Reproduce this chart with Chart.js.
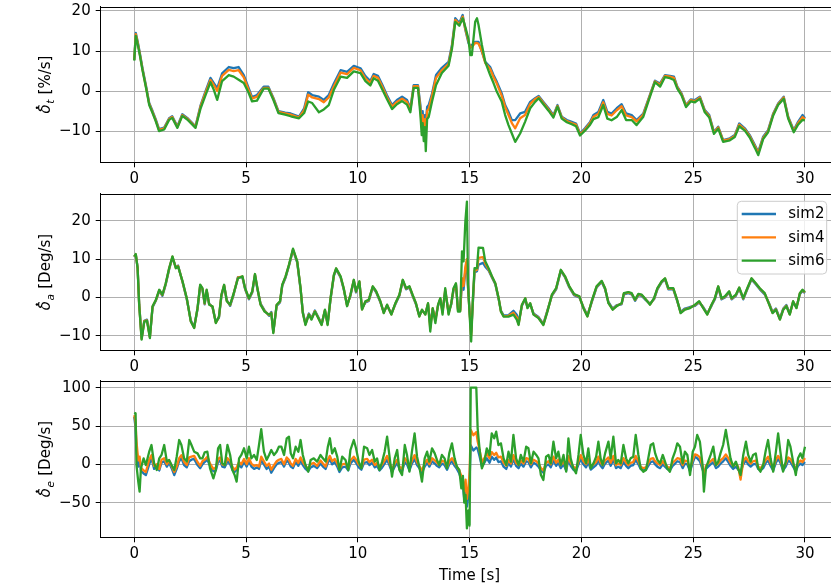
<!DOCTYPE html>
<html>
<head>
<meta charset="utf-8">
<script src="https://cdn.jsdelivr.net/npm/chart.js@4.4.1/dist/chart.umd.min.js"></script>
<style>
    html, body { margin: 0; padding: 0; background: #fff; overflow: hidden; }
    #wrap { position: relative; width: 831px; height: 586px; overflow: hidden; background: #fff; }
    #wrap canvas { position: absolute; left: 0; }
</style>
</head>
<body>
<div id="wrap">
    <canvas id="throttleChart" width="840" height="190" style="top:0px"></canvas>
    <canvas id="aileronChart" width="840" height="190" style="top:188px"></canvas>
    <canvas id="elevatorChart" width="840" height="210" style="top:376px"></canvas>
</div>
<script>
// throttle rate [%/s]
var throttleTime = [
    0, 0.07, 0.15, 0.25, 0.37, 0.52, 0.67, 0.82, 0.96, 1.11,
    1.34, 1.56, 1.7, 1.93, 2.15, 2.37, 2.6, 2.74, 2.97, 3.19,
    3.41, 3.56, 3.71, 3.93, 4.23, 4.45, 4.67, 4.9, 5.12, 5.27,
    5.49, 5.79, 6.0, 6.23, 6.45, 6.75, 7.0, 7.37, 7.6, 7.78,
    7.96, 8.26, 8.48, 8.7, 8.93, 9.23, 9.52, 9.82, 10.12, 10.34,
    10.56, 10.71, 10.9, 11.1, 11.3, 11.53, 11.75, 11.98, 12.2, 12.35,
    12.5, 12.69, 12.8, 12.86, 12.9, 12.95, 13.0, 13.04, 13.1, 13.17,
    13.32, 13.5, 13.76, 14.06, 14.21, 14.36, 14.54, 14.69, 14.81, 14.95,
    15.03, 15.1, 15.25, 15.33, 15.4, 15.55, 15.7, 15.92, 16.07, 16.22,
    16.44, 16.59, 16.74, 16.89, 17.04, 17.26, 17.48, 17.71, 17.93, 18.09,
    18.3, 18.53, 18.75, 18.93, 19.12, 19.35, 19.57, 19.76, 19.94, 20.16,
    20.39, 20.54, 20.76, 20.98, 21.16, 21.35, 21.58, 21.8, 22.0, 22.25,
    22.47, 22.77, 23.06, 23.29, 23.52, 23.74, 23.96, 24.14, 24.29, 24.48,
    24.68, 24.89, 25.08, 25.3, 25.52, 25.72, 25.93, 26.12, 26.34, 26.64,
    26.86, 27.06, 27.31, 27.53, 27.76, 27.91, 28.13, 28.35, 28.58, 28.8,
    29.05, 29.25, 29.5, 29.69, 29.89, 30.0
];
var throttleSim2 = [
    7.8, 14.5, 12.5, 9.5, 5.7, 1.5, -3, -5, -7, -9.5,
    -9.1, -6.8, -6.3, -8.8, -5.8, -6.7, -8, -8.8, -3.5, 0,
    3.3, 2, 0.7, 4.4, 6, 5.7, 6, 4, 0.7, -1.5,
    -1, 1.1, 1.1, -1.8, -5, -5.4, -5.6, -6.4, -4.3, -0.3,
    -1, -1.4, -2.2, -1, 1.9, 5.2, 4.8, 6.3, 5.7, 3.75,
    2.5, 4.25, 3.8, 1.5, -1, -3.5, -2.25, -1.4, -2.25, -4.3,
    1.5, 1.5, -3.5, -8, -5, -10, -6, -8, -4, -3.5,
    -0.6, 4, 5.8, 7.3, 11.5, 18.2, 17, 19, 15.25, 12,
    11.1, 11.5, 12.3, 12.3, 12.3, 9.8, 7.3, 6, 4, 2.3,
    -0.6, -3.5, -5.2, -7.25, -7.25, -5.6, -5.2, -2.7, -1.8, -1.2,
    -2.7, -4.3, -6, -3.5, -6.4, -7.25, -7.7, -8.1, -10.6, -9.3,
    -7.7, -6, -5.2, -2.25, -5.2, -5.6, -4.3, -3.3, -5.6, -6,
    -7.25, -5.6, -1, 2.6, 1.9, 4, 3.8, 3.6, 1.1, -0.6,
    -3.5, -2.1, -2.25, -1.4, -4.75, -6, -10.2, -8.9, -12.25, -11.8,
    -11, -8.1, -9.3, -11, -13.5, -15.2, -11.4, -9.75, -5.6, -3.1,
    -1.4, -6.4, -9.75, -7.7, -6, -6.8
];
var throttleSim4 = [
    7.8, 14.2, 12.2, 9.2, 5.4, 1.2, -3.2, -5.3, -7.3, -9.7,
    -9.3, -7, -6.5, -9, -6, -6.9, -8.2, -9, -3.8, -0.4,
    2.8, 1.5, 0, 3.8, 5.3, 5, 5.2, 3.4, 0.2, -1.9,
    -1.4, 0.8, 0.8, -2, -5.2, -5.6, -5.9, -6.6, -4.8, -0.9,
    -1.6, -2, -2.8, -1.6, 1.2, 4.6, 4.2, 5.8, 5.2, 3.2,
    2, 3.8, 3.3, 1, -1.5, -3.9, -2.7, -1.9, -2.7, -4.7,
    1.2, 1.2, -4.5, -9, -6, -11, -7, -10, -5, -4.5,
    -1.2, 3.3, 5.2, 6.8, 11, 17.8, 16.6, 18.6, 15.5, 12.5,
    10.8, 11, 12, 12, 11.8, 10, 7, 5.5, 3.5, 1.8,
    -1.2, -4, -6, -8, -9.3, -6.8, -6, -3.2, -2, -1.5,
    -3, -4.6, -6.3, -3.7, -6.6, -7.5, -8, -8.4, -10.8, -9.6,
    -8, -6.4, -5.7, -2.8, -5.7, -6.1, -4.8, -3.8, -6.1, -6.5,
    -7.6, -5.9, -1.2, 2.4, 1.6, 3.8, 3.6, 3.3, 0.9, -0.8,
    -3.7, -2.3, -2.5, -1.6, -5, -6.3, -10.4, -9.1, -12.4, -12,
    -11.2, -8.4, -9.6, -11.3, -13.8, -15.5, -11.7, -10, -5.8, -3.3,
    -1.6, -6.6, -10, -8, -6.5, -7
];
var throttleSim6 = [
    7.6, 13.8, 11.8, 9, 5.2, 1, -3.5, -5.5, -7.5, -10,
    -9.6, -7.2, -6.7, -9.2, -6.2, -7.1, -8.4, -9.2, -4.3, -1,
    2.2, 0.3, -2.2, 2.5, 4, 3.6, 2.8, 2, -0.5, -2.6,
    -2.4, 0.6, 0.6, -2.3, -5.5, -5.9, -6.3, -6.8, -5.5, -2.6,
    -3, -5.3, -4.6, -3.5, 0.3, 3.6, 3.3, 4.9, 4.5, 2.5,
    1.4, 3.2, 2.6, 0.3, -2, -4.5, -3.3, -2.5, -3.4, -5.3,
    0.8, 0.8, -6, -11, -8, -12.5, -9, -15, -7, -6.5,
    -2.6, 1.5, 4.5, 6.3, 10.5, 17.3, 16.3, 18.2, 16, 13,
    9, 9, 17.3, 18.2, 16.5, 11.5, 7.3, 4, 2, -0.2,
    -2.7, -6, -8.5, -10.6, -12.7, -10.6, -7.7, -4.3, -2.7, -1.8,
    -3.3, -4.9, -6.6, -3.9, -6.9, -7.8, -8.3, -8.8, -11.1, -9.9,
    -8.4, -7, -6.5, -3.5, -6.9, -7.3, -6.5, -4.75, -7.25, -7.25,
    -8.5, -6.4, -1.5, 2.2, 1.1, 3.5, 3.2, 2.75, 0.6, -1.1,
    -4, -2.6, -2.8, -1.9, -5.3, -6.6, -10.7, -9.4, -12.7, -12.3,
    -11.5, -8.8, -9.9, -11.6, -14.2, -16, -12, -10.3, -6.1, -3.5,
    -1.9, -6.9, -10.3, -8.4, -7.2, -7.3
];

// aileron rate [Deg/s]
var aileronTime = [
    0, 0.07, 0.15, 0.22, 0.33, 0.45, 0.57, 0.7, 0.82, 0.97,
    1.12, 1.26, 1.41, 1.56, 1.71, 1.86, 1.96, 2.16, 2.35, 2.53,
    2.68, 2.83, 2.95, 3.05, 3.15, 3.24, 3.35, 3.5, 3.65, 3.79,
    3.9, 4.02, 4.14, 4.29, 4.43, 4.64, 4.84, 4.96, 5.13, 5.28,
    5.4, 5.51, 5.65, 5.83, 6.03, 6.13, 6.22, 6.37, 6.52, 6.62,
    6.77, 6.92, 7.1, 7.29, 7.44, 7.54, 7.66, 7.81, 7.93, 8.08,
    8.23, 8.38, 8.53, 8.65, 8.78, 8.93, 9.03, 9.23, 9.37, 9.52,
    9.67, 9.82, 9.92, 10.07, 10.19, 10.34, 10.49, 10.67, 10.82, 11.01,
    11.16, 11.31, 11.5, 11.68, 11.86, 12.01, 12.16, 12.31, 12.45, 12.6,
    12.75, 12.87, 13.02, 13.14, 13.24, 13.35, 13.47, 13.59, 13.69, 13.79,
    13.91, 14.06, 14.18, 14.28, 14.39, 14.48, 14.58, 14.66, 14.73, 14.81,
    14.88, 14.93, 15.0, 15.07, 15.15, 15.22, 15.33, 15.4, 15.6, 15.7,
    15.85, 16.0, 16.15, 16.3, 16.4, 16.52, 16.74, 16.96, 17.11, 17.19,
    17.34, 17.49, 17.59, 17.71, 17.86, 18.08, 18.3, 18.48, 18.68, 18.87,
    19.08, 19.27, 19.46, 19.67, 19.91, 20.09, 20.27, 20.46, 20.68, 20.91,
    21.06, 21.21, 21.4, 21.58, 21.8, 21.9, 22.1, 22.25, 22.4, 22.55,
    22.7, 22.84, 23.07, 23.25, 23.4, 23.59, 23.74, 23.89, 24.11, 24.26,
    24.44, 24.63, 24.86, 25.08, 25.27, 25.45, 25.63, 25.82, 25.97, 26.12,
    26.27, 26.42, 26.61, 26.72, 26.91, 27.06, 27.24, 27.42, 27.61, 27.8,
    27.98, 28.2, 28.4, 28.55, 28.7, 28.88, 29.03, 29.17, 29.32, 29.47,
    29.62, 29.77, 29.89, 30.0
];
var aileronSim2 = [
    10.5, 11.1, 7.9, -1.5, -10.6, -6.1, -5.8, -10.2, -2.6, -0.8,
    1.7, 0.4, 3.4, 7.3, 10.4, 7.9, 8.3, 4, -0.5, -6,
    -7.7, -3.1, 3, 2.1, -1.8, 1.7, -1.6, -2.6, -6.4, -5.3,
    0.4, 3, -0.7, -2.2, 0.4, 5.3, 5.2, 2.1, -0.5, 1.3,
    5.8, 2.1, -1.6, -3.4, -4.8, -3.8, -8.9, -2.2, -1.3, 3,
    5.2, 8.2, 12.3, 9.1, 2.1, -3.8, -6.8, -4.2, -5.4, -3.4,
    -5.1, -6.9, -3.5, -6.8, -0.5, 5.6, 7.3, 5.2, 2.1, -2,
    0.4, 4.3, 1.3, 3.9, -2.9, -1.3, -0.9, 2.6, 1.3, -1.3,
    -3.8, -2.2, -4.2, -1.8, 0.4, 4.3, 2.1, 2.6, 0.4, -1.8,
    -4.7, -3.5, -4.2, -1.8, -7, -3.1, -5.5, -2.2, -0.5, -3.5,
    1.5, -3.8, -1.8, 1.8, 3.2, -3, -3.2, 4, 2, 7,
    9, 2.5, -3.5, -9, -1, 6.5, 6.8, 8.5, 9, 8,
    7, 5.2, 3.4, -0.5, -3.4, -4.7, -4.6, -3.5, -4.5, -6.5,
    -2.2, -0.5, -2.5, -1.8, -4.2, -5.1, -6.9, -3.4, 0.4, 2.1,
    6.9, 5.2, 2.6, 0.6, 0, -2.5, -4.7, -1.3, 2.6, 4,
    2.1, -1.2, -2.9, -2, -1.8, 0.8, 1.1, 0.8, -0.9, 0.6,
    0.4, -0.5, -1.6, -0.5, 2.1, 3.9, 4.7, 2.1, 2.1, -0.5,
    -3.8, -2.9, -2.5, -2.2, -1.3, -2.5, -4.2, -2.2, -0.5, 2.6,
    -0.5, 0, 1.3, -0.5, 0.4, 2.3, -0.5, 2.1, 4.7, 3.4,
    2.1, 0.8, -1.6, -3.8, -2.9, -5.5, -2.9, -2, -4.2, -1.3,
    -2.5, 0.8, 1.7, 1.1
];
var aileronSim4 = [
    10.6, 11.2, 7.7, -1.7, -10.8, -6.2, -6, -10.4, -2.4, -0.7,
    1.9, 0.6, 3.6, 7.5, 10.6, 7.7, 8.2, 4.1, -0.3, -6.2,
    -7.9, -2.9, 3.2, 2.3, -1.6, 1.9, -1.8, -2.4, -6.6, -5.1,
    0.6, 3.2, -0.9, -2, 0.6, 5.2, 5.4, 2.3, -0.3, 1.5,
    6, 2.3, -1.8, -3.6, -4.6, -4, -9.1, -2, -1.1, 3.2,
    5.4, 8.4, 12.5, 9.3, 2.3, -4, -7, -4.4, -5.6, -3.6,
    -5.3, -7.1, -3.3, -7, -0.3, 5.8, 7.5, 5.4, 2.3, -2.2,
    0.6, 4.5, 1.5, 4.1, -3.1, -1.1, -0.7, 2.8, 1.5, -1.1,
    -4, -2, -4.4, -1.6, 0.6, 4.5, 2.3, 2.8, 0.6, -1.6,
    -4.9, -3.3, -4.4, -1.6, -8, -2.9, -6, -2, -0.3, -4,
    2, -4.2, -1.6, 2.1, 3.5, -3.4, -3.5, 5, 3, 8,
    10, 2.8, -4, -10, -0.5, 7, 7.2, 10.3, 10.5, 8.8,
    7.3, 5.4, 3.6, -0.3, -3.6, -4.9, -4.8, -4, -5.2, -7,
    -2, -0.3, -2.7, -1.6, -4.4, -5.3, -7.1, -3.6, 0.6, 2.3,
    7.1, 5.4, 2.8, 0.8, 0.2, -2.7, -4.9, -1.1, 2.8, 4.2,
    2.3, -1.4, -3.1, -2.2, -1.6, 1, 1.3, 1, -0.7, 0.8,
    0.6, -0.3, -1.8, -0.3, 2.3, 4.1, 4.9, 2.3, 2.3, -0.3,
    -4, -3.1, -2.7, -2, -1.1, -2.7, -4.4, -2, -0.3, 2.8,
    -0.3, 0.2, 1.5, -0.3, 0.6, 2.5, -0.3, 2.3, 4.9, 3.6,
    2.3, 1, -1.8, -4, -3.1, -5.7, -3.1, -2.2, -4.4, -1.1,
    -2.7, 1, 1.9, 1.3
];
var aileronSim6 = [
    10.7, 11.3, 7.6, -1.9, -11, -6.3, -6.1, -10.6, -2.3, -0.6,
    2, 0.7, 3.7, 7.6, 10.7, 7.6, 8.1, 4.2, -0.2, -6.3,
    -8, -2.8, 3.3, 2.4, -1.5, 2, -1.9, -2.3, -6.7, -5,
    0.7, 3.3, -1, -1.9, 0.7, 5, 5.5, 2.4, -0.2, 1.6,
    6.1, 2.4, -1.9, -3.7, -4.5, -4.1, -9.3, -1.9, -1, 3.3,
    5.5, 8.5, 12.7, 9.4, 2.4, -4.1, -7.2, -4.5, -5.8, -3.7,
    -5.4, -7.2, -3.2, -7.2, -0.2, 5.9, 7.6, 5.5, 2.4, -2.3,
    0.7, 4.6, 1.6, 4.2, -3.2, -1, -0.6, 2.9, 1.6, -1,
    -4.1, -1.9, -4.5, -1.5, 0.7, 4.6, 2.4, 2.9, 0.7, -1.5,
    -5, -3.2, -4.5, -1.5, -8.9, -2.8, -6.7, -1.9, -0.2, -4.5,
    2.4, -4.5, -1.5, 2.4, 3.7, -3.7, -3.7, 12, 9.4, 19.8,
    25, 3.3, -4.5, -11.5, 0, 7.6, 7.6, 13, 12.9, 9.4,
    7.6, 5.5, 3.7, -0.2, -3.7, -5, -5, -4.5, -5.8, -7.2,
    -1.9, -0.2, -2.8, -1.5, -4.5, -5.4, -7.2, -3.7, 0.7, 2.4,
    7.2, 5.5, 2.9, 0.9, 0.3, -2.8, -5, -1, 2.9, 4.3,
    2.4, -1.5, -3.2, -2.3, -1.5, 1.1, 1.4, 1.1, -0.6, 0.9,
    0.7, -0.2, -1.9, -0.2, 2.4, 4.2, 5, 2.4, 2.4, -0.2,
    -4.1, -3.2, -2.8, -1.9, -1, -2.8, -4.5, -1.9, -0.2, 2.9,
    -0.2, 0.3, 1.6, -0.2, 0.7, 2.6, -0.2, 2.4, 5, 3.7,
    2.4, 1.1, -1.9, -4.1, -3.2, -5.8, -3.2, -2.3, -4.5, -1,
    -2.8, 1.1, 2, 1.4
];

// elevator rate [Deg/s]
var elevatorTime = [
    0, 0.06, 0.1, 0.18, 0.24, 0.3, 0.42, 0.52, 0.67, 0.77,
    0.89, 1.01, 1.12, 1.22, 1.34, 1.46, 1.56, 1.67, 1.79, 1.9,
    2.01, 2.11, 2.23, 2.35, 2.46, 2.56, 2.68, 2.83, 2.95, 3.05,
    3.15, 3.27, 3.39, 3.54, 3.65, 3.75, 3.84, 3.94, 4.05, 4.17,
    4.29, 4.39, 4.49, 4.58, 4.69, 4.79, 4.91, 5.03, 5.13, 5.24,
    5.36, 5.48, 5.58, 5.68, 5.8, 5.92, 6.03, 6.13, 6.25, 6.37,
    6.47, 6.58, 6.7, 6.82, 6.92, 7.0, 7.1, 7.22, 7.34, 7.44,
    7.54, 7.66, 7.78, 7.89, 8.03, 8.18, 8.33, 8.44, 8.56, 8.66,
    8.75, 8.85, 8.97, 9.08, 9.18, 9.3, 9.45, 9.57, 9.67, 9.82,
    9.92, 10.04, 10.16, 10.28, 10.42, 10.52, 10.64, 10.76, 10.86, 10.97,
    11.09, 11.2, 11.31, 11.41, 11.53, 11.65, 11.76, 11.86, 11.98, 12.1,
    12.2, 12.31, 12.42, 12.54, 12.65, 12.75, 12.87, 12.99, 13.1, 13.2,
    13.32, 13.44, 13.54, 13.64, 13.76, 13.88, 13.99, 14.09, 14.21, 14.33,
    14.43, 14.54, 14.63, 14.7, 14.76, 14.82, 14.88, 14.95, 15.0, 15.05,
    15.17, 15.3, 15.36, 15.45, 15.55, 15.66, 15.77, 15.89, 15.99, 16.1,
    16.19, 16.29, 16.4, 16.52, 16.64, 16.74, 16.85, 16.96, 17.08, 17.19,
    17.29, 17.41, 17.53, 17.63, 17.74, 17.86, 17.98, 18.08, 18.19, 18.3,
    18.42, 18.53, 18.63, 18.75, 18.87, 18.97, 19.08, 19.2, 19.32, 19.42,
    19.52, 19.64, 19.76, 19.87, 19.97, 20.09, 20.21, 20.31, 20.42, 20.54,
    20.66, 20.76, 20.86, 20.95, 21.06, 21.21, 21.31, 21.43, 21.55, 21.65,
    21.76, 21.88, 22.0, 22.1, 22.2, 22.32, 22.43, 22.55, 22.65, 22.77,
    22.89, 22.99, 23.1, 23.21, 23.3, 23.4, 23.52, 23.64, 23.74, 23.84,
    23.96, 24.08, 24.19, 24.29, 24.41, 24.53, 24.63, 24.74, 24.86, 24.98,
    25.08, 25.18, 25.3, 25.42, 25.48, 25.57, 25.67, 25.78, 25.9, 26.02,
    26.12, 26.22, 26.34, 26.46, 26.57, 26.67, 26.79, 26.91, 27.01, 27.12,
    27.24, 27.36, 27.46, 27.57, 27.68, 27.8, 27.91, 28.01, 28.13, 28.25,
    28.35, 28.46, 28.58, 28.7, 28.8, 28.9, 29.02, 29.14, 29.25, 29.35,
    29.47, 29.59, 29.69, 29.8, 29.89, 30.0
];
var elevatorSim2 = [
    62, 48, 20, -3, 6, -8, -12, -14, 0, 8,
    -6, -3, -8, 2, 4, -3, 2, -5, -14, -6,
    4, 8, -1, -4, 4, 6, 7, -1, -5, 0,
    3, 6, -2, -9, -8, 3, 5, -3, -4, 4,
    0, -7, -10, -7, -1, -4, 3, -3, 4, -3,
    -6, -4, -6, 5, 0, -6, -3, -11, -5, 0,
    2, 3, -3, 5, 2, -3, -5, 3, -2, 5,
    -1, -6, -9, -4, -2, -5, 1, -3, -6, 2,
    7, 0, 3, -3, -10, -4, -3, -8, 1, 6,
    2, -4, -7, 2, 3, -1, 2, -4, -2, -8,
    -4, 1, 6, -1, -10, -3, 2, -6, -9, 3,
    0, -8, 1, 7, -1, -5, -11, -3, 2, -3,
    4, 1, -2, -4, 1, -1, -7, 0, 4, -2,
    -6, -12, -20, -28, -45, -30, -55, -40, -20, 25,
    18, 22, 20, 10, -3, 2, 8, 2, 10, 6,
    9, 3, 4, -3, -6, 2, -3, 7, -2, -5,
    1, -3, 4, 3, -4, 2, 0, -3, -8, -11,
    -2, 0, -4, 5, -2, 2, -5, 0, -8, 6,
    -2, -7, -9, 0, 7, 0, -4, 3, -7, -4,
    -1, 5, -2, -5, 1, 5, -2, 6, -5, -3,
    -5, 3, -2, -5, -2, -1, 6, 0, -6, -8,
    -7, -2, 3, 4, 0, -3, -5, 0, -3, -6,
    -8, -2, 1, 4, 3, -5, 1, 0, -9, 2,
    10, 8, 4, -7, -12, -6, -3, 0, 3, -5,
    -3, 1, 4, 8, 3, -2, -6, -3, -7, -10,
    0, 5, 0, -3, 0, 1, -6, -8, -5, 2,
    5, -2, -8, 2, 7, 2, -8, -3, 5, 3,
    -3, -9, -2, 1, -1, 3
];
var elevatorSim4 = [
    64, 55, 30, 5, 10, -4, -8, -10, 6, 12,
    -2, 0, -6, 6, 8, 0, 5, -2, -10, -3,
    8, 12, 3, -1, 9, 10, 11, 3, -2, 4,
    6, 10, 1, -6, -4, 7, 9, 0, -1, 8,
    4, -3, -7, -4, 3, 0, 7, 0, 8, 1,
    -2, -1, -3, 10, 4, -2, 1, -7, -1, 4,
    6, 7, 0, 9, 6, 1, -2, 7, 2, 9,
    3, -2, -6, 0, 2, -2, 5, 1, -3, 6,
    11, 4, 7, 1, -6, 0, 1, -5, 5, 10,
    6, 0, -4, 6, 7, 3, 6, -1, 2, -5,
    0, 5, 11, 3, -7, 1, 6, -3, -6, 8,
    4, -4, 5, 12, 3, -2, -8, 1, 6, 0,
    8, 5, 2, -1, 5, 3, -4, 4, 8, 2,
    -3, -8, -15, -22, -35, -20, -45, -30, -10, 45,
    38, 42, 30, 18, 3, 8, 14, 8, 16, 12,
    15, 9, 10, 2, -2, 6, 1, 12, 2, -1,
    5, 1, 8, 7, 0, 6, 4, 1, -5, -8,
    2, 4, 0, 10, 2, 6, -1, 4, -5, 11,
    2, -3, -6, 4, 12, 4, 0, 7, -3, 0,
    3, 10, 2, -1, 5, 9, 2, 11, -1, 1,
    -1, 8, 2, -1, 2, 3, 11, 4, -3, -5,
    -4, 2, 7, 8, 4, 1, -1, 4, 0, -3,
    -5, 2, 5, 8, 7, -1, 5, 4, -6, 6,
    13, 12, 9, -3, -15, -2, 1, 4, 7, -1,
    1, 5, 8, 13, 8, 2, -2, 1, -3, -20,
    4, 9, 4, 1, 4, 5, -3, -5, -1, 6,
    10, 2, -5, 6, 11, 6, -5, 1, 9, 7,
    1, -6, 2, 5, 3, 8
];
var elevatorSim6 = [
    67.4, 66.5, -1, -22.6, -35.7, -5.2, 7.8, -0.9, 16.5, 25.2,
    1.3, -7.4, 7.8, 12.2, 25.2, 3.5, 5.7, -0.9, -7.4, 10,
    31.7, 25.2, 7.8, 3.5, 31.7, 25.2, 16.5, 14.3, 7.8, 7.8,
    15.7, 16.5, -5.2, -18.3, -7.4, 20.9, 25.2, 1.3, -0.9, 25.2,
    12.2, -7.4, -13.9, -22.6, 7.8, 12.2, 20.9, 7.8, 23, 7.8,
    12.2, 5.7, 25.2, 46, 16.5, 5.7, 12.2, 18.7, 12.2, 16.5,
    23, 23, 12.2, 33.9, 36, 14.3, 7.8, 23, 16.5, 31.7,
    12.2, -0.9, -9.6, 5.7, 7.8, 3.5, 12.2, 7.8, 3.5, 23,
    34, 14.3, 20.9, 10, -7.4, 10, 5.7, -7.4, 18.7, 31.7,
    20.9, 3.5, -5.2, 23, 20.9, 12.2, 18.7, 3.5, 7.8, -7.4,
    3.5, 16.5, 36.1, 12.2, -16.1, 7.8, 18.7, -7.4, -13.9, 25.2,
    12.2, -9.6, 16.5, 40.4, 10, -3, -22.6, 7.8, 16.5, 3.5,
    20.9, 14.3, 5.7, -0.9, 12.2, 7.8, -5.2, 14.3, 27.4, 7.8,
    -3, -7.4, -31.3, -15, -50, -40, -83.5, -60, -80, 100,
    100, 100, 47, 18.7, -5.2, 3.5, 20.9, 12.2, 40.4, 33.9,
    42.6, 25.2, 27.4, 7.8, -0.9, 16.5, 3.5, 38.3, 7.8, -0.9,
    12.2, 3.5, 23, 20.9, 1.3, 16.5, 12.2, 7.8, -13.9, -20.4,
    10, 12.2, 1.3, 29.6, 7.8, 16.5, -0.9, 12.2, -9.6, 33.9,
    7.8, -5.2, -11.7, 12.2, 38.3, 12.2, 1.3, 20.9, -5.2, 1.3,
    10, 29.6, 7.8, -0.9, 14.3, 29.6, 7.8, 36.1, 1.3, 5.7,
    1.3, 25.2, 7.8, 1.3, 7.8, 10, 38.3, 12.2, -5.2, -9.6,
    -7.4, 7.8, 25.2, 27.4, 14.3, 5.7, 1.3, 12.2, 3.5, -5.2,
    -9.6, 7.8, 16.5, 27.4, 23, 1.3, 16.5, 12.2, -13.9, 16.5,
    23, 38.3, 29.6, -0.9, -35.7, -5.2, 3.5, 12.2, 23, -0.9,
    3.5, 14.3, 25.2, 44.8, 25.2, 7.8, -3, 3.5, -5.2, -13.9,
    12.2, 29.6, 12.2, 3.5, 12.2, 14.3, -5.2, -9.6, -0.9, 18.7,
    31.7, 7.8, -9.6, 16.5, 40.4, 16.5, -9.6, 3.5, 31.7, 23,
    3.5, -13.9, 7.8, 14.3, 7.8, 23
];

var xTicks = [0, 5, 10, 15, 20, 25, 30];
var throttleTicks = [-10, 0, 10, 20];
var aileronTicks = [-10, 0, 10, 20];
var elevatorTicks = [-50, 0, 50, 100];
var seriesNames = ['sim2', 'sim4', 'sim6'];
var seriesColors = ['#1f77b4', '#ff7f0e', '#2ca02c'];

var FONT = '"DejaVu Sans", "Liberation Sans", sans-serif';
var FONT_SIZE = 15;

function fmtTick(v) {
    return v < 0 ? '\u2212' + Math.abs(v) : String(v);
}

function points(times, values) {
    return times.map(function (t, i) { return { x: t, y: values[i] }; });
}

function fixedTicks(list) {
    return function (scale) {
        scale.ticks = list.map(function (v) { return { value: v }; });
    };
}

// keep the plot box exactly where the layout padding puts it
function fitAxis(size) {
    return function (scale) {
        if (scale.isHorizontal()) scale.height = size;
        else scale.width = size;
        scale.paddingTop = 0;
        scale.paddingBottom = 0;
        scale.paddingLeft = 0;
        scale.paddingRight = 0;
    };
}

function drawYLabel(chart, sub, unit) {
    var ctx = chart.ctx;
    var a = chart.chartArea;
    var fs = FONT_SIZE;
    var fItal = 'italic ' + fs + 'px ' + FONT;
    var fSub = 'italic ' + (fs * 0.7).toFixed(1) + 'px ' + FONT;
    var fReg = fs + 'px ' + FONT;

    ctx.save();
    ctx.translate(45, (a.top + a.bottom) / 2);
    ctx.rotate(-Math.PI / 2);
    ctx.font = fItal;
    var wD = ctx.measureText('\u03b4').width;
    ctx.font = fSub;
    var wS = ctx.measureText(sub).width;
    ctx.font = fReg;
    var wU = ctx.measureText(' ' + unit).width;
    var x = -(wD + wS + 1 + wU) / 2;
    var base = fs * 0.36;

    ctx.fillStyle = '#000';
    ctx.textAlign = 'left';
    ctx.textBaseline = 'alphabetic';
    ctx.font = fItal;
    ctx.fillText('\u03b4', x, base);
    ctx.beginPath();
    ctx.arc(x + wD * 0.62, base - fs * 0.9, fs * 0.08, 0, 2 * Math.PI);
    ctx.fill();
    ctx.font = fSub;
    ctx.fillText(sub, x + wD + 0.5, base + fs * 0.22);
    ctx.font = fReg;
    ctx.fillText(' ' + unit, x + wD + wS + 1, base);
    ctx.restore();
}

function drawLegend(chart) {
    var ctx = chart.ctx;
    var a = chart.chartArea;
    var x0 = a.right - 101.2, y0 = a.top + 7.6, w = 89.4, h = 72.7, r = 4;

    ctx.save();
    ctx.beginPath();
    ctx.moveTo(x0 + r, y0);
    ctx.arcTo(x0 + w, y0, x0 + w, y0 + h, r);
    ctx.arcTo(x0 + w, y0 + h, x0, y0 + h, r);
    ctx.arcTo(x0, y0 + h, x0, y0, r);
    ctx.arcTo(x0, y0, x0 + w, y0, r);
    ctx.closePath();
    ctx.fillStyle = 'rgba(255,255,255,0.8)';
    ctx.fill();
    ctx.strokeStyle = '#cccccc';
    ctx.lineWidth = 1;
    ctx.stroke();

    ctx.font = FONT_SIZE + 'px ' + FONT;
    ctx.textAlign = 'left';
    ctx.textBaseline = 'middle';
    chart.data.datasets.forEach(function (ds, i) {
        var y = y0 + 12.7 + i * 23.35;
        ctx.strokeStyle = ds.borderColor;
        ctx.lineWidth = 2.3;
        ctx.beginPath();
        ctx.moveTo(x0 + 4.4, y);
        ctx.lineTo(x0 + 38.7, y);
        ctx.stroke();
        ctx.fillStyle = '#000';
        ctx.fillText(ds.label, x0 + 51, y + 0.5);
    });
    ctx.restore();
}

function makePanel(canvasId, times, s2, s4, s6, yMin, yMax, yTicks, cfg) {
    var values = [s2, s4, s6];
    var datasets = values.map(function (vals, i) {
        return {
            label: seriesNames[i],
            data: points(times, vals),
            borderColor: seriesColors[i],
            backgroundColor: seriesColors[i],
            borderWidth: 2.3,
            pointRadius: 0,
            tension: 0,
            fill: false,
            borderJoinStyle: 'round',
            order: 3 - i
        };
    });

    var axisGrid = { color: '#b0b0b0', lineWidth: 1, tickColor: '#000', tickLength: 5, tickWidth: 1 };
    var axisBorder = { color: '#000', width: 1 };
    var tickFont = { family: FONT, size: FONT_SIZE };

    var panelPlugin = {
        id: 'panelDecor',
        afterDraw: function (chart) {
            var ctx = chart.ctx;
            var a = chart.chartArea;
            ctx.save();
            ctx.strokeStyle = '#000';
            ctx.lineWidth = 1;
            ctx.beginPath();
            ctx.moveTo(a.left, Math.round(a.top) + 0.5);
            ctx.lineTo(a.right, Math.round(a.top) + 0.5);
            ctx.moveTo(Math.round(a.right) + 0.5, a.top);
            ctx.lineTo(Math.round(a.right) + 0.5, a.bottom);
            ctx.stroke();
            ctx.restore();

            drawYLabel(chart, cfg.sub, cfg.unit);
            if (cfg.legend) drawLegend(chart);
            if (cfg.xTitle) {
                ctx.save();
                ctx.fillStyle = '#000';
                ctx.font = FONT_SIZE + 'px ' + FONT;
                ctx.textAlign = 'center';
                ctx.textBaseline = 'middle';
                ctx.fillText(cfg.xTitle, (a.left + a.right) / 2, a.bottom + 38.7);
                ctx.restore();
            }
        }
    };

    return new Chart(document.getElementById(canvasId), {
        type: 'line',
        data: { datasets: datasets },
        options: {
            responsive: false,
            animation: false,
            devicePixelRatio: 1,
            events: [],
            layout: { padding: { left: 0, right: 1.5, top: cfg.padTop, bottom: cfg.padBottom } },
            plugins: { legend: { display: false }, tooltip: { enabled: false } },
            scales: {
                x: {
                    type: 'linear',
                    min: -1.5,
                    max: 31.5,
                    afterBuildTicks: fixedTicks(xTicks),
                    afterFit: fitAxis(27.7),
                    grid: axisGrid,
                    border: axisBorder,
                    ticks: { font: tickFont, color: '#000', padding: 3, maxRotation: 0, autoSkip: false, callback: fmtTick }
                },
                y: {
                    type: 'linear',
                    min: yMin,
                    max: yMax,
                    afterBuildTicks: fixedTicks(yTicks),
                    afterFit: fitAxis(100.7),
                    grid: axisGrid,
                    border: axisBorder,
                    ticks: { font: tickFont, color: '#000', padding: 5, autoSkip: false, callback: fmtTick }
                }
            }
        },
        plugins: [panelPlugin]
    });
}

makePanel('throttleChart', throttleTime, throttleSim2, throttleSim4, throttleSim6,
    -17.8, 21.07, throttleTicks, { sub: 't', unit: '[%/s]', padTop: 6.7, padBottom: 0 });
makePanel('aileronChart', aileronTime, aileronSim2, aileronSim4, aileronSim6,
    -13.8, 27.05, aileronTicks, { sub: 'a', unit: '[Deg/s]', padTop: 5.7, padBottom: 0, legend: true });
makePanel('elevatorChart', elevatorTime, elevatorSim2, elevatorSim4, elevatorSim6,
    -95.2, 109.1, elevatorTicks, { sub: 'e', unit: '[Deg/s]', padTop: 4.7, padBottom: 21, xTitle: 'Time [s]' });
</script>
</body>
</html>
